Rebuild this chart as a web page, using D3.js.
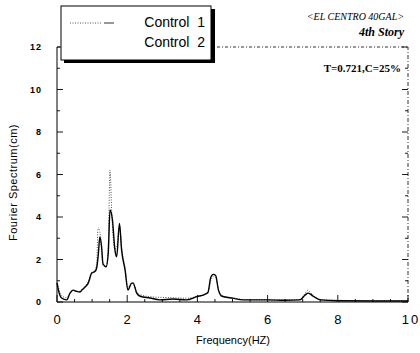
<!DOCTYPE html>
<html>
<head>
<meta charset="utf-8">
<script src="https://cdn.jsdelivr.net/npm/d3@7"></script>
<style>
  body { margin: 0; background: #fff; }
  svg { display: block; }
</style>
</head>
<body>
<div id="vis"></div>
<script>
// frequency (Hz) and spectrum values (cm)
var freq2 = [0.0, 0.04, 0.13, 0.28, 0.37, 0.46, 0.56, 0.66, 0.71, 0.8, 0.89, 0.99, 1.08, 1.13, 1.18, 1.22, 1.27,
  1.31, 1.4, 1.46, 1.51, 1.58, 1.65, 1.7, 1.78, 1.84, 1.94, 2.02, 2.13, 2.17, 2.27, 2.37, 2.65, 2.93, 3.31,
  3.69, 3.98, 4.2, 4.3, 4.38, 4.45, 4.52, 4.6, 4.7, 5.0, 5.3, 6.0, 6.5, 6.92, 7.07, 7.16, 7.3, 7.5, 8.0, 9.0, 10.0];
var control2 = [0.9, 0.56, 0.19, 0.1, 0.42, 0.56, 0.5, 0.47, 0.56, 0.7, 0.89, 1.36, 1.43, 1.6, 2.3, 3.06, 2.6,
  1.8, 1.66, 2.3, 4.33, 3.86, 2.45, 2.13, 3.7, 2.45, 1.5, 0.56, 0.89, 0.89, 0.42, 0.27, 0.19, 0.1, 0.14,
  0.1, 0.25, 0.35, 0.45, 1.15, 1.3, 1.25, 0.56, 0.27, 0.18, 0.1, 0.1, 0.08, 0.1, 0.33, 0.42, 0.27, 0.1, 0.06, 0.05, 0.05];

var freq1 = [0.0, 0.04, 0.13, 0.28, 0.37, 0.46, 0.56, 0.66, 0.71, 0.8, 0.89, 0.99, 1.08, 1.13, 1.17, 1.22, 1.27,
  1.31, 1.4, 1.46, 1.51, 1.56, 1.6, 1.65, 1.7, 1.78, 1.84, 1.94, 2.02, 2.13, 2.17, 2.27, 2.37, 2.65, 2.93, 3.31,
  3.69, 3.98, 4.2, 4.3, 4.38, 4.45, 4.52, 4.6, 4.7, 5.0, 5.3, 6.0, 6.5, 6.92, 7.07, 7.14, 7.3, 7.5, 8.0, 9.0, 10.0];
var control1 = [1.0, 0.7, 0.3, 0.2, 0.4, 0.55, 0.5, 0.5, 0.6, 0.75, 0.95, 1.4, 1.5, 1.8, 3.5, 3.3, 2.5,
  1.7, 1.7, 2.6, 6.2, 4.2, 3.0, 2.5, 2.6, 3.6, 2.6, 1.6, 0.7, 0.9, 0.85, 0.5, 0.35, 0.25, 0.22, 0.2,
  0.18, 0.25, 0.35, 0.45, 1.0, 1.2, 1.15, 0.6, 0.3, 0.2, 0.12, 0.1, 0.1, 0.12, 0.4, 0.55, 0.3, 0.12, 0.08, 0.06, 0.06];

var xTickLabels = [0, 2, 4, 6, 8, 10];
var yTickLabels = [0, 2, 4, 6, 8, 10, 12];
var seriesNames = ['Control  1', 'Control  2'];

var width = 420, height = 353;
var margin = { left: 57, right: 12, top: 47, bottom: 51 };

var svg = d3.select('#vis').append('svg')
  .attr('width', width)
  .attr('height', height);

var x = d3.scaleLinear().domain([0, 10]).range([margin.left, width - margin.right]);
var y = d3.scaleLinear().domain([0, 12]).range([height - margin.bottom, margin.top]);

// frame: solid left/bottom, dashed top/right
var frame = svg.append('g').attr('stroke', '#000').attr('fill', 'none');
frame.append('line').attr('x1', x(0)).attr('x2', x(0)).attr('y1', y(0)).attr('y2', y(12)).attr('stroke-width', 1);
frame.append('line').attr('x1', x(0)).attr('x2', x(10)).attr('y1', y(0)).attr('y2', y(0)).attr('stroke-width', 1.2);
frame.append('line').attr('x1', x(0)).attr('x2', x(10)).attr('y1', y(12)).attr('y2', y(12))
  .attr('stroke-width', 0.8).attr('stroke-dasharray', '3,2,1,2');
frame.append('line').attr('x1', x(10)).attr('x2', x(10)).attr('y1', y(0)).attr('y2', y(12))
  .attr('stroke-width', 0.8).attr('stroke-dasharray', '4,2,1,2');

// inward ticks
var ticks = svg.append('g').attr('stroke', '#000').attr('stroke-width', 0.9);
d3.range(0, 10.01, 0.5).forEach(function (v) {
  var len = (v % 2 === 0) ? 7 : 3;
  ticks.append('line').attr('x1', x(v)).attr('x2', x(v)).attr('y1', y(0)).attr('y2', y(0) - len);
});
d3.range(0, 12.01, 1).forEach(function (v) {
  var len = (v % 2 === 0) ? 6 : 3;
  ticks.append('line').attr('x1', x(0)).attr('x2', x(0) + len).attr('y1', y(v)).attr('y2', y(v));
  ticks.append('line').attr('x1', x(10)).attr('x2', x(10) - len).attr('y1', y(v)).attr('y2', y(v));
});

// tick labels
svg.append('g').selectAll('text').data(xTickLabels).enter().append('text')
  .attr('x', function (d) { return x(d) + (d === 10 ? 3 : 0); })
  .attr('y', y(0) + 22)
  .attr('text-anchor', 'middle')
  .attr('font-family', 'Liberation Sans, Arial, sans-serif')
  .attr('font-size', 13)
  .attr('letter-spacing', function (d) { return d === 10 ? 2 : 0; })
  .text(function (d) { return d; });

svg.append('g').selectAll('text').data(yTickLabels).enter().append('text')
  .attr('x', x(0) - 15)
  .attr('y', function (d) { return y(d) + 3; })
  .attr('text-anchor', 'end')
  .attr('font-family', 'Liberation Sans, Arial, sans-serif')
  .attr('font-size', 9)
  .attr('font-weight', 'bold')
  .attr('letter-spacing', 1)
  .text(function (d) { return d; });

// axis titles
svg.append('text')
  .attr('x', 233).attr('y', 344)
  .attr('text-anchor', 'middle')
  .attr('font-family', 'Liberation Sans, Arial, sans-serif')
  .attr('font-size', 11)
  .text('Frequency(HZ)');

svg.append('text')
  .attr('transform', 'translate(17,' + (y(6) + 8) + ') rotate(-90)')
  .attr('text-anchor', 'middle')
  .attr('font-family', 'Liberation Sans, Arial, sans-serif')
  .attr('font-size', 11)
  .attr('letter-spacing', 0.5)
  .text('Fourier  Spectrum(cm)');

// series
var line1 = d3.line().x(function (d, i) { return x(freq1[i]); }).y(function (d) { return y(d); });
var line2 = d3.line().x(function (d, i) { return x(freq2[i]); }).y(function (d) { return y(d); }).curve(d3.curveMonotoneX);

svg.append('path').datum(control1)
  .attr('d', line1.curve(d3.curveMonotoneX))
  .attr('fill', 'none').attr('stroke', '#555').attr('stroke-width', 1)
  .attr('stroke-dasharray', '1,1.5');

svg.append('path').datum(control2)
  .attr('d', line2)
  .attr('fill', 'none').attr('stroke', '#000').attr('stroke-width', 1.4);

// legend box with heavy shadow
var legend = svg.append('g');
legend.append('rect').attr('x', 64).attr('y', 9).attr('width', 151).attr('height', 54).attr('fill', '#000');
legend.append('rect').attr('x', 61).attr('y', 6).attr('width', 150).attr('height', 54)
  .attr('fill', '#fff').attr('stroke', '#000').attr('stroke-width', 1);
legend.append('line').attr('x1', 70).attr('x2', 101).attr('y1', 23).attr('y2', 23)
  .attr('stroke', '#555').attr('stroke-width', 1).attr('stroke-dasharray', '1,1.5');
legend.append('line').attr('x1', 104).attr('x2', 114).attr('y1', 23).attr('y2', 23)
  .attr('stroke', '#333').attr('stroke-width', 1);
legend.selectAll('text.lab').data(seriesNames).enter().append('text')
  .attr('x', 205)
  .attr('y', function (d, i) { return 27 + i * 20; })
  .attr('text-anchor', 'end')
  .attr('font-family', 'Liberation Sans, Arial, sans-serif')
  .attr('font-size', 14)
  .style('white-space', 'pre')
  .text(function (d) { return d; });

// annotations
var serif = 'Liberation Serif, Times New Roman, serif';
svg.append('text').attr('x', 404).attr('y', 20).attr('text-anchor', 'end')
  .attr('font-family', serif).attr('font-size', 10).attr('font-style', 'italic')
  .text('<EL CENTRO 40GAL>');
svg.append('text').attr('x', 404).attr('y', 36).attr('text-anchor', 'end')
  .attr('font-family', serif).attr('font-size', 12).attr('font-style', 'italic').attr('font-weight', 'bold')
  .text('4th Story');
svg.append('text').attr('x', 401).attr('y', 72).attr('text-anchor', 'end')
  .attr('font-family', serif).attr('font-size', 11).attr('font-weight', 'bold')
  .text('T=0.721,C=25%');
</script>
</body>
</html>
